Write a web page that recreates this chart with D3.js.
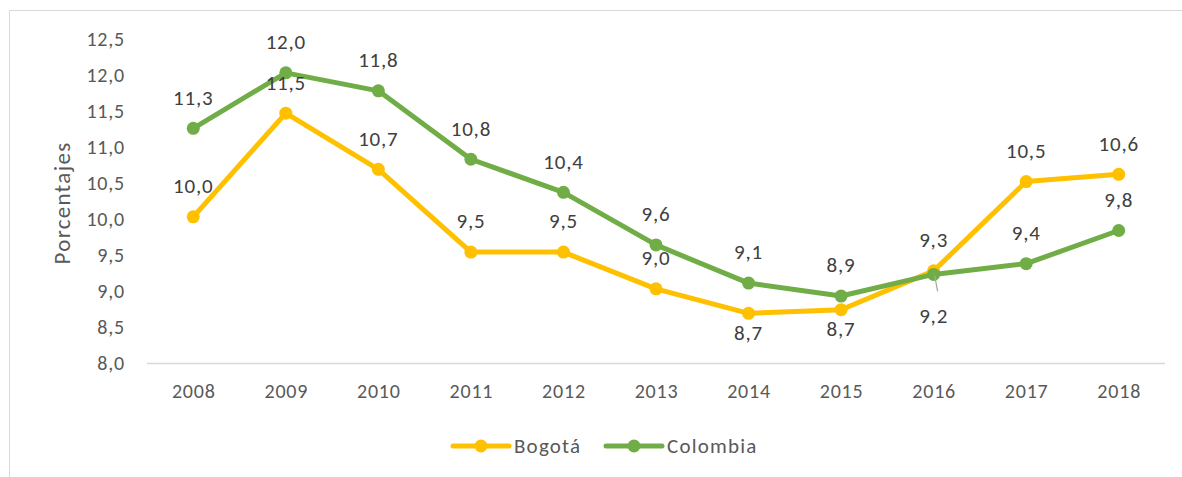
<!DOCTYPE html>
<html>
<head>
<meta charset="utf-8">
<script src="https://cdn.jsdelivr.net/npm/d3@7"></script>
<style>
  html, body { margin: 0; padding: 0; background: #fff; }
  svg { display: block; font-family: Carlito, Calibri, Lato, "Open Sans", sans-serif; }
</style>
</head>
<body>
<svg id="chart" width="1182" height="477"></svg>
<script>
// Annual values (percent), 2008–2018
const years = ["2008","2009","2010","2011","2012","2013","2014","2015","2016","2017","2018"];
const bogota   = [10.03, 11.47, 10.69, 9.54, 9.54, 9.03, 8.69, 8.74, 9.28, 10.52, 10.62];
const colombia = [11.26, 12.03, 11.78, 10.83, 10.37, 9.64, 9.11, 8.93, 9.23, 9.38, 9.84];
const yTicks = [8.0, 8.5, 9.0, 9.5, 10.0, 10.5, 11.0, 11.5, 12.0, 12.5];
const seriesNames = ["Bogotá", "Colombia"];

// label placement per point: "a" above, "b" below, "l" below with leader line
const bogotaLabelPos   = ["a","a","a","a","a","a","b","b","a","a","a"];
const colombiaLabelPos = ["a","a","a","a","a","a","a","a","l","a","a"];

const colors = { "Bogotá": "#FFC000", "Colombia": "#70AD47" };
const fmt = v => d3.format(".1f")(v).replace(".", ",");
const FONT = "Carlito, Calibri, Lato, 'Open Sans', sans-serif";

const svg = d3.select("#chart");
const plot = { left: 147, right: 1165, top: 39, bottom: 363 };

// outer frame (left and top edges visible)
svg.append("path")
  .attr("d", `M9.5,477 V10.5 H1182`)
  .attr("fill", "none").attr("stroke", "#d9d9d9").attr("stroke-width", 1);

const x = d3.scalePoint().domain(years).range([plot.left, plot.right]).padding(0.5);
const y = d3.scaleLinear().domain([8, 12.5]).range([plot.bottom, plot.top]);

// y axis labels
const yAxis = d3.axisLeft(y).tickValues(yTicks).tickFormat(fmt).tickSize(0).tickPadding(0);
const gy = svg.append("g").attr("transform", "translate(125,0)").call(yAxis);
gy.select(".domain").remove();
gy.selectAll("text").attr("fill", "#595959").style("font-size", "20px")
  .style("letter-spacing", "0.8px").style("font-family", FONT);

// x axis
const xAxis = d3.axisBottom(x).tickSize(0).tickPadding(21);
const gx = svg.append("g").attr("transform", `translate(0,${plot.bottom})`).call(xAxis);
gx.select(".domain").attr("stroke", "#d9d9d9").attr("stroke-width", 1.3)
  .attr("d", `M${plot.left},0.5H${plot.right}`);
gx.selectAll("text").attr("fill", "#595959").style("font-size", "20px")
  .style("letter-spacing", "0.8px").style("font-family", FONT);

// y axis title
svg.append("text")
  .attr("transform", `translate(70,${(plot.top + plot.bottom) / 2 + 2}) rotate(-90)`)
  .attr("text-anchor", "middle")
  .attr("fill", "#595959").style("font-size", "23px").style("letter-spacing", "1.3px")
  .text("Porcentajes");

const series = [
  { name: "Bogotá", values: bogota, pos: bogotaLabelPos },
  { name: "Colombia", values: colombia, pos: colombiaLabelPos }
];

const line = d3.line().x((d, i) => x(years[i])).y(d => y(d));

// lines and markers
series.forEach(s => {
  const g = svg.append("g");
  g.append("path").datum(s.values)
    .attr("d", line).attr("fill", "none")
    .attr("stroke", colors[s.name]).attr("stroke-width", 5)
    .attr("stroke-linejoin", "round").attr("stroke-linecap", "round");
  g.selectAll("circle").data(s.values).join("circle")
    .attr("cx", (d, i) => x(years[i])).attr("cy", d => y(d))
    .attr("r", 6.5).attr("fill", colors[s.name]);
});

// data labels
series.forEach(s => {
  const g = svg.append("g");
  s.values.forEach((v, i) => {
    const px = x(years[i]), py = y(v);
    const p = s.pos[i];
    let ty;
    if (p === "a") ty = py - 31;
    else if (p === "b") ty = py + 19;
    else {
      ty = py + 41;
      g.append("line")
        .attr("x1", px + 1).attr("y1", py + 1)
        .attr("x2", px + 4).attr("y2", py + 17)
        .attr("stroke", "#a6a6a6").attr("stroke-width", 1.2);
    }
    g.append("text")
      .attr("x", px).attr("y", ty)
      .attr("dy", "0.35em")
      .attr("text-anchor", "middle")
      .attr("fill", "#404040").style("font-size", "21px").style("letter-spacing", "0.8px")
      .text(fmt(v));
  });
});

// legend
const legend = svg.append("g").attr("transform", "translate(0,446)");
const legendItems = [
  { name: seriesNames[0], x0: 453 },
  { name: seriesNames[1], x0: 606 }
];
legendItems.forEach(it => {
  legend.append("line")
    .attr("x1", it.x0).attr("x2", it.x0 + 56).attr("y1", 0).attr("y2", 0)
    .attr("stroke", colors[it.name]).attr("stroke-width", 5).attr("stroke-linecap", "round");
  legend.append("circle").attr("cx", it.x0 + 28).attr("cy", 0).attr("r", 6.5)
    .attr("fill", colors[it.name]);
  legend.append("text")
    .attr("x", it.x0 + 61).attr("y", 0).attr("dy", "0.35em")
    .attr("fill", "#595959").style("font-size", "21px")
    .style("letter-spacing", "1.2px")
    .text(it.name);
});
</script>
</body>
</html>
